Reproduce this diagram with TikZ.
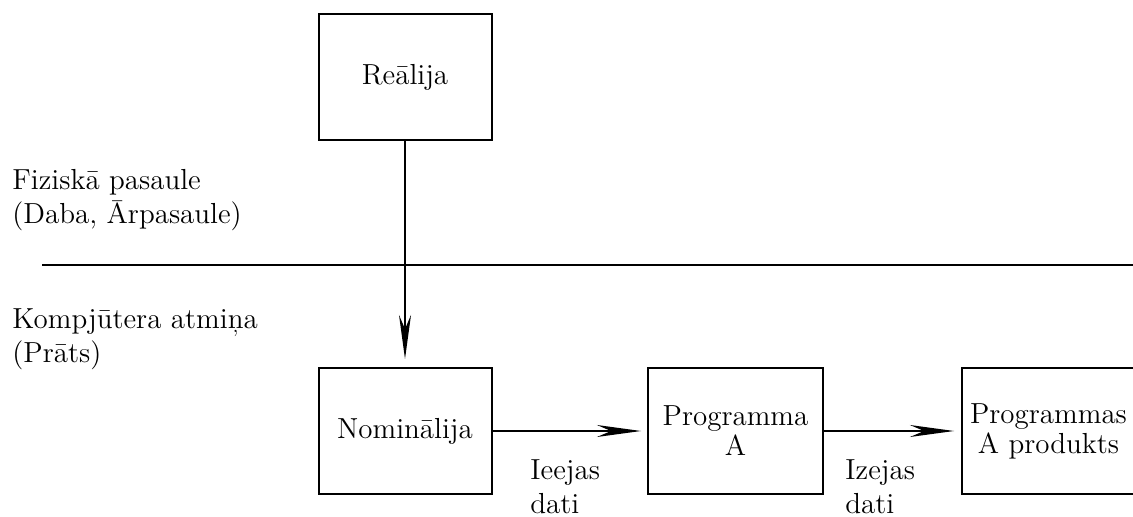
\documentclass[tikz,border=0pt]{standalone}
\usepackage{tikz}
\usetikzlibrary{arrows.meta,positioning,calc}
\tikzset{
  mbox/.style={draw,line width=1pt,minimum width=86.5pt,minimum height=63pt,inner sep=2pt,align=center,font=\fontsize{14.5}{15}\selectfont},
  marrow/.style={-{Stealth[length=22pt,width=6pt,inset=7pt]},line width=.8pt},
  mlabel/.style={align=left,inner sep=0pt,font=\fontsize{14.5}{17}\selectfont}
}

\begin{document}
\begin{tikzpicture}[x=0.5pt,y=-0.5pt]
  \useasboundingbox (0,0) rectangle (1133,517);
  \node[mbox] (realija) at (405,77) {Reālija};
  \node[mbox] (nominalija) at (405,431) {Nominālija};
  \node[mbox,minimum width=87.5pt] (progA) at (735.5,431) {Programma\\A};
  \node[mbox] (progprod) at (1048.5,431) {Programmas\\A produkts};
  \node[mlabel,anchor=west] (fiz) at (12,200) {Fiziskā pasaule\\(Daba, Ārpasaule)};
  \node[mlabel,anchor=west] (komp) at (12,339) {Kompjūtera atmiņa\\(Prāts)};
  \node[mlabel,anchor=west] (ieejas) at (530,487) {Ieejas\\dati};
  \node[mlabel,anchor=west] (izejas) at (845,487) {Izejas\\dati};
  \coordinate (divL) at (42,265);
  \coordinate (divR) at (1133,265);
  \draw[line width=1pt] (divL) -- (divR);
  \draw[marrow,shorten >=4pt] (realija) -- (nominalija);
  \draw[marrow,shorten >=3pt] (nominalija) -- (progA);
  \draw[marrow,shorten >=3.5pt] (progA) -- (progprod);
\end{tikzpicture}
\end{document}
